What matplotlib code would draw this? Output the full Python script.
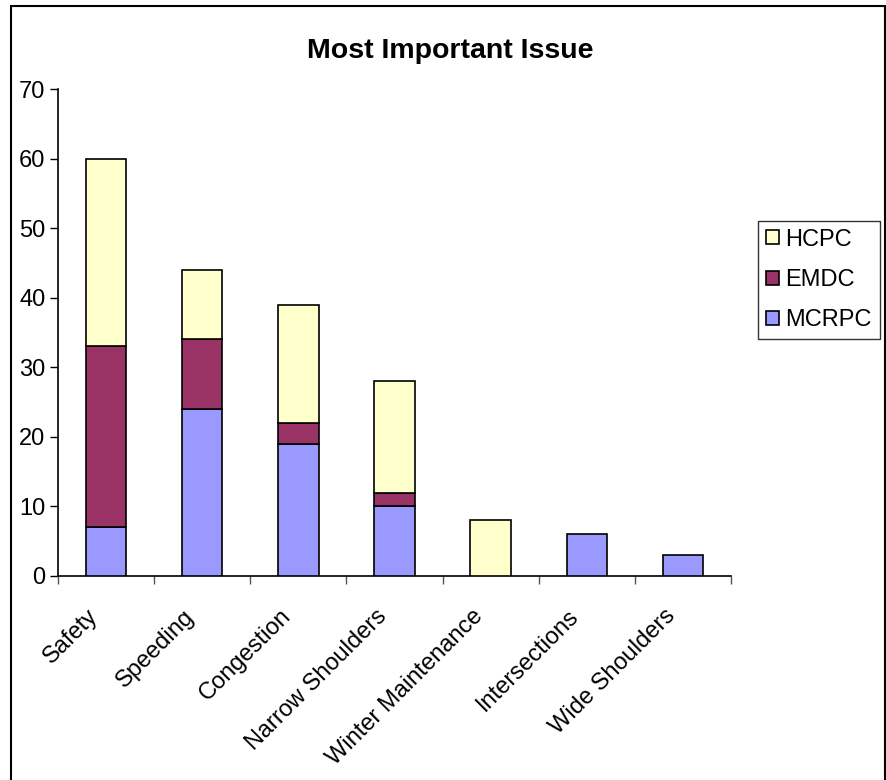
import matplotlib
matplotlib.use("Agg")
import matplotlib.pyplot as plt
import matplotlib.patches as mpatches
import matplotlib.transforms as mtransforms
import numpy as np

plt.rcParams['font.family'] = ['Liberation Sans', 'DejaVu Sans']

categories = ["Safety", "Speeding", "Congestion", "Narrow Shoulders",
              "Winter Maintenance", "Intersections", "Wide Shoulders"]
mcrpc = [7, 24, 19, 10, 0, 6, 3]
emdc = [26, 10, 3, 2, 0, 0, 0]
hcpc = [27, 10, 17, 16, 8, 0, 0]
series_names = ["MCRPC", "EMDC", "HCPC"]
colors = ["#9999FF", "#993366", "#FFFFCC"]
yticks = [0, 10, 20, 30, 40, 50, 60, 70]

fig = plt.figure(figsize=(8.87, 7.80), dpi=100)
ax = fig.add_axes([58/887, 204/780, (731-58)/887, (576-89)/780])

x = np.arange(len(categories)) + 0.5
bottom = np.zeros(len(categories))
handles = []
for vals, name, col in zip([mcrpc, emdc, hcpc], series_names, colors):
    v = np.array(vals, dtype=float)
    mask = v > 0
    b = ax.bar(x[mask], v[mask], width=0.42, bottom=bottom[mask], color=col,
               edgecolor='black', linewidth=1.2, label=name, zorder=3)
    handles.append(b)
    bottom += v

ax.set_xlim(0, len(categories))
ax.set_ylim(0, 70)
ax.set_yticks(yticks)
ax.set_yticklabels([str(t) for t in yticks], fontsize=17)
ax.set_xticks(np.arange(len(categories) + 1))
ax.set_xticklabels([])
ax.set_xticks(x, minor=True)
ax.set_xticklabels(categories, minor=True, rotation=45, ha='right',
                   va='top', rotation_mode='anchor', fontsize=17)
ax.tick_params(axis='x', which='minor', length=0, pad=21)
ax.tick_params(axis='x', which='major', length=6, width=1, direction='out', color='#555555')
ax.tick_params(axis='y', length=6, width=1, direction='out', pad=3)
for s in ['top', 'right']:
    ax.spines[s].set_visible(False)
for s in ['left', 'bottom']:
    ax.spines[s].set_linewidth(1.2)
offset = mtransforms.ScaledTranslation(-19/100, 0, fig.dpi_scale_trans)
for lbl in ax.get_xticklabels(minor=True):
    lbl.set_transform(lbl.get_transform() + offset)

leg = fig.legend(handles=handles[::-1], labels=series_names[::-1],
                 loc='upper left', bbox_to_anchor=(758/887, 1 - 221/780),
                 fontsize=17, frameon=True, fancybox=False, edgecolor='black',
                 handlelength=0.55, handleheight=0.55, handletextpad=0.3,
                 labelspacing=0.78, borderpad=0.32, borderaxespad=0)
leg.get_frame().set_linewidth(1.0)

fig.text(450/887, 1 - 51/780, "Most Important Issue", ha='center', va='center',
         fontsize=20.5, fontweight='bold')

frame = mpatches.Rectangle((11/887, -0.01), (885-11)/887, (780-6)/780 + 0.01,
                           transform=fig.transFigure, fill=False,
                           edgecolor='black', linewidth=1.5)
fig.patches.append(frame)

fig.savefig("out.png", dpi=100)
